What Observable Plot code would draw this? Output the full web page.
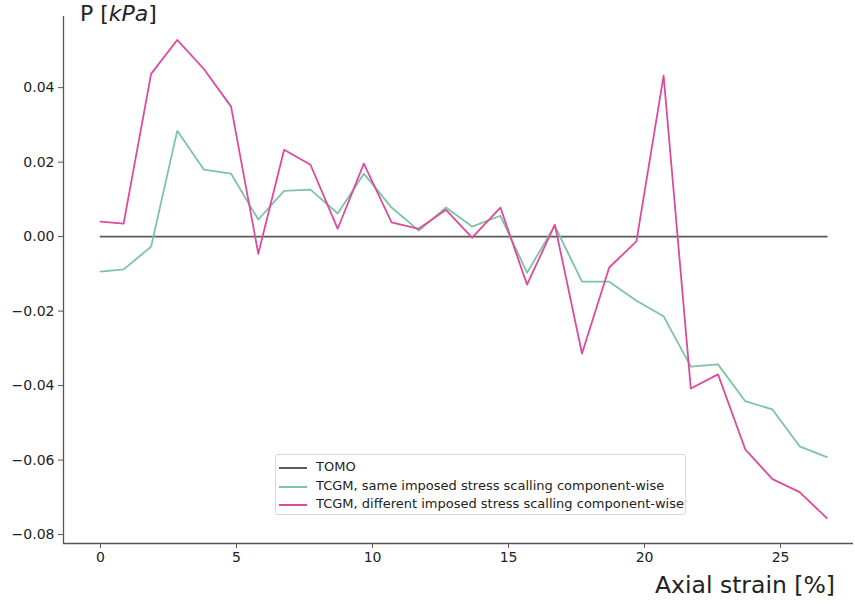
<!DOCTYPE html>
<html>
<head>
<meta charset="utf-8">
<script src="https://cdn.jsdelivr.net/npm/d3@7"></script>
<script src="https://cdn.jsdelivr.net/npm/@observablehq/plot@0.6"></script>
<style>
  body { margin: 0; background: #fff; font-family: "DejaVu Sans", sans-serif; }
  #chart { position: relative; width: 855px; height: 605px; }
  #ylabel { position: absolute; left: 80px; top: 2px; font-size: 22px; line-height: 24px; color: #222; white-space: nowrap; }
  #xlabel { position: absolute; right: 20px; top: 572px; font-size: 23.5px; line-height: 26px; color: #222; white-space: nowrap; }
  #legend { position: absolute; left: 275px; top: 454px; width: 411px; height: 61px; box-sizing: border-box;
            border: 1px solid #d8d8d8; border-radius: 3px; background: rgba(255,255,255,0.85);
            font-size: 13px; color: #222; padding-top: 3px; }
  .row { position: relative; height: 18.5px; line-height: 18.5px; padding-left: 40px; white-space: nowrap; }
  .swatch { position: absolute; left: 3px; top: 9px; width: 28px; height: 0; border-top: 2px solid; }
</style>
</head>
<body>
<div id="chart">
  <div id="ylabel">P [<i>kPa</i>]</div>
  <div id="xlabel">Axial strain [%]</div>
</div>
<script>
// Axial strain (%) at each measurement step
const strain = [0, 0.85, 1.86, 2.82, 3.8, 4.8, 5.8, 6.75, 7.72, 8.72, 9.68, 10.7, 11.7, 12.7,
                13.66, 14.7, 15.68, 16.7, 17.7, 18.7, 19.7, 20.7, 21.7, 22.7, 23.7, 24.7, 25.7, 26.7];

// Pressure difference P (kPa) for each series
const tomo = [0, 0, 0, 0, 0, 0, 0, 0, 0, 0, 0, 0, 0, 0,
              0, 0, 0, 0, 0, 0, 0, 0, 0, 0, 0, 0, 0, 0];
const sameScaling = [-0.0094, -0.0088, -0.0027, 0.0284, 0.0180, 0.0169, 0.0046, 0.0123, 0.0126, 0.0062,
                     0.0169, 0.0078, 0.0016, 0.0078, 0.0027, 0.0056, -0.0097, 0.0029, -0.0121, -0.0121,
                     -0.0172, -0.0214, -0.0349, -0.0343, -0.0442, -0.0464, -0.0563, -0.0592];
const diffScaling = [0.0040, 0.0035, 0.0437, 0.0528, 0.0450, 0.0349, -0.0046, 0.0233, 0.0193, 0.0021,
                     0.0196, 0.0038, 0.0021, 0.0072, -0.0003, 0.0078, -0.0129, 0.0032, -0.0314, -0.0083,
                     -0.0013, 0.0432, -0.0408, -0.0370, -0.0571, -0.0651, -0.0686, -0.0756];

const seriesNames = [
  "TOMO",
  "TCGM, same imposed stress scalling component-wise",
  "TCGM, different imposed stress scalling component-wise"
];
const seriesColors = ["#5a5a5a", "#7cc4a4", "#dd4a9e"];

const xTicks = [0, 5, 10, 15, 20, 25];
const yTicks = [-0.08, -0.06, -0.04, -0.02, 0.00, 0.02, 0.04];

const xDomain = [-1.36, 27.68];
const yDomain = [-0.0824, 0.0591];

const rows = [];
[tomo, sameScaling, diffScaling].forEach((vals, s) => {
  vals.forEach((v, i) => rows.push({strain: strain[i], p: v, series: seriesNames[s]}));
});

const plot = Plot.plot({
  width: 855,
  height: 605,
  marginLeft: 63,
  marginTop: 16,
  marginBottom: 62,
  marginRight: 2,
  style: {fontFamily: "DejaVu Sans, sans-serif", fontSize: "14px", color: "#222", background: "transparent"},
  x: {domain: xDomain},
  y: {domain: yDomain},
  color: {domain: seriesNames, range: seriesColors},
  marks: [
    Plot.axisX({ticks: xTicks, tickSize: 5, tickPadding: 4, tickFormat: d => String(d), label: null, stroke: "#555"}),
    Plot.axisY({ticks: yTicks, tickSize: 5, tickPadding: 4, tickFormat: d3.format(".2f"), label: null, stroke: "#555"}),
    Plot.ruleX([xDomain[0]], {stroke: "#555", strokeWidth: 1.3}),
    Plot.ruleY([yDomain[0]], {stroke: "#555", strokeWidth: 1.3}),
    Plot.line(rows, {x: "strain", y: "p", z: "series", stroke: "series", strokeWidth: 1.8})
  ]
});

const chart = document.getElementById("chart");
chart.insertBefore(plot, chart.firstChild);

// Legend inside the plot area
const legend = document.createElement("div");
legend.id = "legend";
seriesNames.forEach((name, i) => {
  const row = document.createElement("div");
  row.className = "row";
  const sw = document.createElement("span");
  sw.className = "swatch";
  sw.style.borderColor = seriesColors[i];
  row.appendChild(sw);
  row.appendChild(document.createTextNode(name));
  legend.appendChild(row);
});
chart.appendChild(legend);
</script>
</body>
</html>
